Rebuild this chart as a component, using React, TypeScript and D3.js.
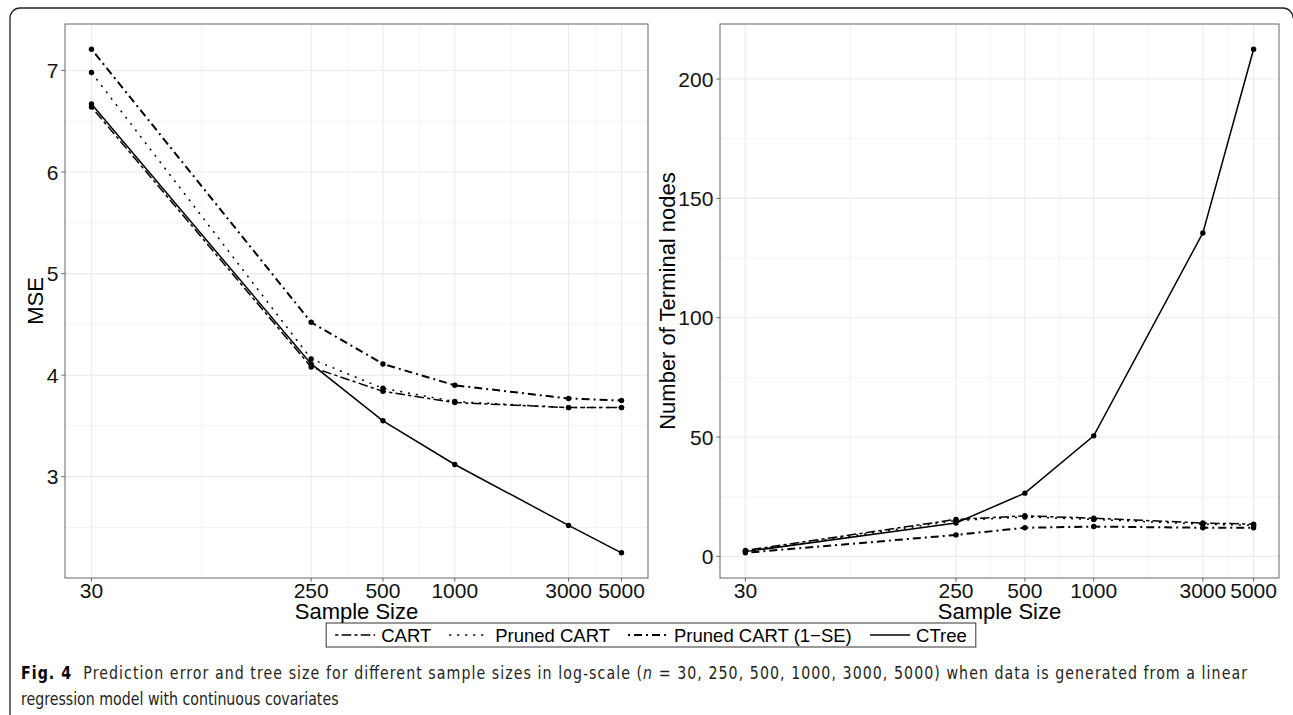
import React from "react";
import * as d3 from "d3";

// sample sizes on the (log) x axis
const sampleSizes = [30, 250, 500, 1000, 3000, 5000];
const seriesNames = ["CART", "Pruned CART", "Pruned CART (1\u2212SE)", "CTree"];

// left panel: MSE
const mseCart = [6.64, 4.08, 3.84, 3.73, 3.68, 3.68];
const msePruned = [6.98, 4.16, 3.87, 3.74, 3.68, 3.68];
const msePruned1se = [7.21, 4.52, 4.11, 3.9, 3.77, 3.75];
const mseCtree = [6.67, 4.11, 3.55, 3.12, 2.52, 2.25];
const mseTicks = [3, 4, 5, 6, 7];

// right panel: number of terminal nodes
const nodesCart = [2.5, 15.5, 17, 16, 14, 13.5];
const nodesPruned = [2, 15, 16.5, 15.5, 13.5, 13];
const nodesPruned1se = [1.5, 9, 12, 12.5, 12, 12];
const nodesCtree = [2, 14, 26.5, 50.5, 135.5, 212.5];
const nodesTicks = [0, 50, 100, 150, 200];

const dashes = ["3.2,3.2,9.6,3.2", "2,6", "2,4,8,4", null];
const widths = [1.5, 1.5, 2, 1.5];

const FONT = "'Liberation Sans', Arial, Helvetica, sans-serif";
const CAP_FONT = "'Liberation Sans Narrow', 'DejaVu Sans Condensed', 'Liberation Sans', sans-serif";
const PANEL_TOP = 24;
const PANEL_BOTTOM = 578;

const captionBold = "Fig. 4";
const captionA = "  Prediction error and tree size for different sample sizes in log-scale (";
const captionB = " = 30, 250, 500, 1000, 3000, 5000) when data is generated from a linear";
const captionLine2 = "regression model with continuous covariates";

function Panel({ x0, x1, series, yTicks, yTitle, titleX }) {
  const lx = Math.log10(d3.min(sampleSizes));
  const hx = Math.log10(d3.max(sampleSizes));
  const px = (hx - lx) * 0.05;
  const x = d3.scaleLog().domain([10 ** (lx - px), 10 ** (hx + px)]).range([x0, x1]);

  const all = series.flat();
  const [ly, hy] = d3.extent(all);
  const py = (hy - ly) * 0.05;
  const y = d3.scaleLinear().domain([ly - py, hy + py]).range([PANEL_BOTTOM, PANEL_TOP]);
  const [dy0, dy1] = y.domain();

  // minor grid halfway between breaks (in transformed space), like ggplot
  const xMinor = d3.pairs(sampleSizes).map(([a, b]) => Math.sqrt(a * b));
  const step = yTicks[1] - yTicks[0];
  const yMinor = [yTicks[0] - step / 2, ...yTicks.map((t) => t + step / 2)].filter(
    (v) => v > dy0 && v < dy1
  );

  const line = d3
    .line()
    .x((d, i) => x(sampleSizes[i]))
    .y((d) => y(d));

  return (
    <g>
      {xMinor.map((v) => (
        <line key={"xm" + v} x1={x(v)} x2={x(v)} y1={PANEL_TOP} y2={PANEL_BOTTOM} stroke="#ededed" strokeWidth={0.6} />
      ))}
      {yMinor.map((v) => (
        <line key={"ym" + v} x1={x0} x2={x1} y1={y(v)} y2={y(v)} stroke="#ededed" strokeWidth={0.6} />
      ))}
      {sampleSizes.map((v) => (
        <line key={"xg" + v} x1={x(v)} x2={x(v)} y1={PANEL_TOP} y2={PANEL_BOTTOM} stroke="#ebebeb" strokeWidth={1.1} />
      ))}
      {yTicks.map((v) => (
        <line key={"yg" + v} x1={x0} x2={x1} y1={y(v)} y2={y(v)} stroke="#ebebeb" strokeWidth={1.1} />
      ))}

      {series.map((vals, si) => (
        <path
          key={"s" + si}
          d={line(vals)}
          fill="none"
          stroke="#000"
          strokeWidth={widths[si]}
          strokeDasharray={dashes[si] || undefined}
        />
      ))}
      {series.map((vals, si) =>
        vals.map((v, i) => <circle key={"p" + si + "-" + i} cx={x(sampleSizes[i])} cy={y(v)} r={2.7} fill="#000" />)
      )}

      <rect x={x0} y={PANEL_TOP} width={x1 - x0} height={PANEL_BOTTOM - PANEL_TOP} fill="none" stroke="#666" strokeWidth={1} />

      {sampleSizes.map((v) => (
        <g key={"xt" + v}>
          <line x1={x(v)} x2={x(v)} y1={PANEL_BOTTOM} y2={PANEL_BOTTOM + 3.7} stroke="#666" />
          <text x={x(v)} y={598} textAnchor="middle" fontSize={21} fill="#111" fontFamily={FONT}>
            {v}
          </text>
        </g>
      ))}
      {yTicks.map((v) => (
        <g key={"yt" + v}>
          <line x1={x0 - 3.7} x2={x0} y1={y(v)} y2={y(v)} stroke="#666" />
          <text x={x0 - 6.6} y={y(v) + 7.5} textAnchor="end" fontSize={21} fill="#111" fontFamily={FONT}>
            {v}
          </text>
        </g>
      ))}
      <text x={(x0 + x1) / 2} y={619} textAnchor="middle" fontSize={22} fill="#000" fontFamily={FONT}>
        Sample Size
      </text>
      <text
        transform={`translate(${titleX},${(PANEL_TOP + PANEL_BOTTOM) / 2}) rotate(-90)`}
        textAnchor="middle"
        fontSize={22}
        fill="#000"
        fontFamily={FONT}
      >
        {yTitle}
      </text>
    </g>
  );
}

function Legend({ ctx }) {
  const fs = 18.5;
  ctx.font = `${fs}px ${FONT}`;
  const tw = seriesNames.map((s) => ctx.measureText(s).width);
  const keyW = 40, gap = 6, itemGap = 18, pad = 9;
  const total = pad * 2 + d3.sum(tw) + seriesNames.length * (keyW + gap) + (seriesNames.length - 1) * itemGap;
  const left = 651 - total / 2;
  let cx = left + pad;
  const items = seriesNames.map((s, i) => {
    const it = { name: s, kx: cx, tx: cx + keyW + gap, i };
    cx += keyW + gap + tw[i] + itemGap;
    return it;
  });
  const top = 623, h = 24, mid = top + h / 2;
  return (
    <g>
      <rect x={left} y={top} width={total} height={h} fill="#fff" stroke="#333" strokeWidth={1} />
      {items.map((it) => (
        <g key={it.name}>
          <line
            x1={it.kx}
            x2={it.kx + keyW}
            y1={mid}
            y2={mid}
            stroke="#000"
            strokeWidth={widths[it.i]}
            strokeDasharray={dashes[it.i] || undefined}
          />
          <text x={it.tx} y={mid + 6.5} fontSize={fs} fontFamily={FONT} fill="#000">
            {it.name}
          </text>
        </g>
      ))}
    </g>
  );
}

export default function App() {
  const ctx = document.createElement("canvas").getContext("2d");
  const capSize = 17;
  // squeeze horizontally so line 2 fits, then stretch line 1 to the full width
  ctx.font = `${capSize}px ${CAP_FONT}`;
  const w2 = ctx.measureText(captionLine2).width;
  const sx = 318 / w2;

  return (
    <div style={{ position: "absolute", left: 0, top: 0 }}>
      <svg width={1293} height={715} style={{ display: "block", background: "#fff" }}>
        <path d="M10,716 V18 A10,10 0 0 1 20,8 H1283 A10,10 0 0 1 1293,18" fill="none" stroke="#222" strokeWidth={1.3} />

        <Panel
          x0={65}
          x1={648}
          series={[mseCart, msePruned, msePruned1se, mseCtree]}
          yTicks={mseTicks}
          yTitle="MSE"
          titleX={43}
        />
        <Panel
          x0={720}
          x1={1279}
          series={[nodesCart, nodesPruned, nodesPruned1se, nodesCtree]}
          yTicks={nodesTicks}
          yTitle="Number of Terminal nodes"
          titleX={675}
        />
        <Legend ctx={ctx} />

        <g transform={`translate(21,0) scale(${sx},1)`}>
          <text
            x={0}
            y={679}
            fontSize={capSize}
            fontFamily={CAP_FONT}
            fill="#231f20"
            textLength={1226 / sx}
            lengthAdjust="spacing"
            style={{ whiteSpace: "pre" }}
          >
            <tspan fontWeight="bold" fill="#000">{captionBold}</tspan>
            <tspan>{captionA}</tspan>
            <tspan fontStyle="italic">n</tspan>
            <tspan>{captionB}</tspan>
          </text>
          <text x={0} y={705} fontSize={capSize} fontFamily={CAP_FONT} fill="#231f20">
            {captionLine2}
          </text>
        </g>
      </svg>
    </div>
  );
}
